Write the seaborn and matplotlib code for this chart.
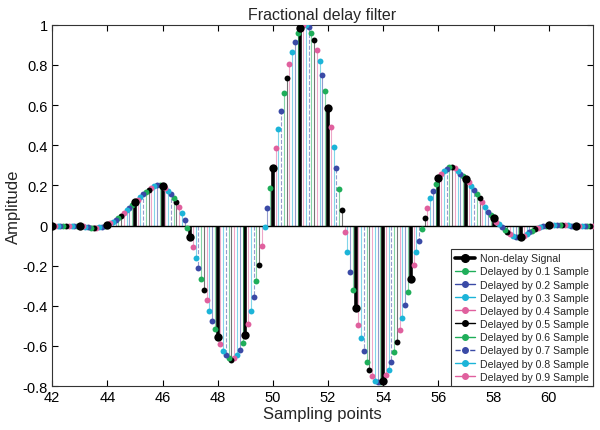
import numpy as np
import pandas as pd
import matplotlib
matplotlib.use("Agg")
import matplotlib.pyplot as plt
from matplotlib.lines import Line2D
from matplotlib.legend_handler import HandlerLine2D
import seaborn as sns

# ---------------- data ----------------
sample_points = list(range(42, 62))
non_delay = [0.000, -0.002, 0.004, 0.116, 0.196, -0.058, -0.554, -0.546, 0.285, 0.983,
             0.585, -0.413, -0.774, -0.266, 0.236, 0.232, 0.038, -0.058, 0.002, 0.000]

delays = [0.1, 0.2, 0.3, 0.4, 0.5, 0.6, 0.7, 0.8, 0.9]
# values of each delayed series at positions n - d, n = 43, 44, ...
delay_01 = [-0.001, -0.001, 0.103, 0.201, -0.013, -0.516, -0.588, 0.186, 0.957, 0.672,
            -0.320, -0.779, -0.330, 0.207, 0.246, 0.053, -0.058, 0.000, 0.000]
delay_02 = [-0.001, -0.005, 0.089, 0.201, 0.027, -0.475, -0.621, 0.087, 0.917, 0.751,
            -0.230, -0.782, -0.396, 0.174, 0.258, 0.069, -0.055, -0.003, 0.000]
delay_03 = [0.000, -0.008, 0.075, 0.197, 0.062, -0.426, -0.646, -0.009, 0.867, 0.819,
            -0.131, -0.774, -0.462, 0.136, 0.274, 0.091, -0.050, -0.007, 0.001]
delay_04 = [0.000, -0.010, 0.061, 0.189, 0.092, -0.372, -0.660, -0.104, 0.807, 0.877,
            -0.031, -0.752, -0.521, 0.086, 0.286, 0.116, -0.042, -0.012, 0.001, 0.000]
delay_05 = [0.000, -0.011, 0.049, 0.178, 0.117, -0.320, -0.668, -0.195, 0.734, 0.927,
            0.077, -0.720, -0.582, 0.036, 0.291, 0.136, -0.032, -0.018, 0.002, 0.000]
delay_06 = [0.000, -0.010, 0.038, 0.167, 0.139, -0.265, -0.659, -0.278, 0.660, 0.960,
            0.182, -0.679, -0.632, -0.017, 0.290, 0.157, -0.020, -0.025, 0.002, 0.000]
delay_07 = [0.000, -0.008, 0.028, 0.156, 0.158, -0.213, -0.646, -0.358, 0.573, 0.988,
            0.288, -0.627, -0.679, -0.075, 0.282, 0.175, -0.008, -0.033, 0.003, 0.000]
delay_08 = [0.000, -0.006, 0.019, 0.143, 0.173, -0.160, -0.623, -0.426, 0.480, 0.998,
            0.392, -0.563, -0.719, -0.133, 0.270, 0.196, 0.006, -0.042, 0.003, 0.000]
delay_09 = [0.000, -0.004, 0.011, 0.129, 0.186, -0.106, -0.592, -0.491, 0.386, 0.998,
            0.493, -0.496, -0.745, -0.196, 0.257, 0.216, 0.020, -0.051, 0.003, 0.000]
delay_values = [delay_01, delay_02, delay_03, delay_04, delay_05,
                delay_06, delay_07, delay_08, delay_09]

labels = ["Non-delay Signal"] + [f"Delayed by {d} Sample" for d in delays]
x_ticks = [42, 44, 46, 48, 50, 52, 54, 56, 58, 60]
y_ticks = [-0.8, -0.6, -0.4, -0.2, 0, 0.2, 0.4, 0.6, 0.8, 1]
y_ticklabels = ["-0.8", "-0.6", "-0.4", "-0.2", "0", "0.2", "0.4", "0.6", "0.8", "1"]

# ---------------- style ----------------
sns.set_style("ticks")
plt.rcParams["font.family"] = ["Liberation Sans", "DejaVu Sans"]

green, blue, cyan, pink = "#1fae5a", "#3a4aa6", "#1cb4d8", "#e0609e"
colors = [green, blue, cyan, pink, "black", green, blue, cyan, pink]
stem_styles = ["-", "-", "-", "-", "-", "-", "--", "-", "-"]

fig = plt.figure(figsize=(6.0, 4.31), dpi=100)
ax = fig.add_axes([0.087, 0.102, 0.901, 0.838])

# non-delay signal
ax.vlines(sample_points, 0, non_delay, colors="black", linewidth=2.6, zorder=2)
sns.scatterplot(x=sample_points, y=non_delay, ax=ax, color="black", s=36,
                edgecolor="black", linewidth=0, zorder=5, legend=False)

for d, vals, c, ls in zip(delays, delay_values, colors, stem_styles):
    pos = np.arange(43, 43 + len(vals)) - d
    ax.vlines(pos, 0, vals, colors=c, linewidth=0.8, linestyles=ls, alpha=0.55, zorder=3)
    sns.scatterplot(x=pos, y=vals, ax=ax, color=c, s=18, edgecolor=c,
                    linewidth=0, zorder=4, legend=False)

ax.axhline(0, color="black", linewidth=1.0, zorder=3)

ax.set_xlim(42, 61.6)
ax.set_ylim(-0.8, 1.0)
ax.set_xticks(x_ticks)
ax.set_yticks(y_ticks)
ax.set_yticklabels(y_ticklabels)
ax.tick_params(direction="in", top=True, right=True, length=4, width=0.8,
               labelsize=10.5, colors="black", pad=3)
for s in ax.spines.values():
    s.set_linewidth(0.8)
    s.set_color("#333333")

ax.set_title("Fractional delay filter", fontsize=11.5, pad=4)
ax.set_xlabel("Sampling points", fontsize=12, labelpad=1)
ax.set_ylabel("Amplitude", fontsize=12, labelpad=1)

# legend: line with marker at its right end (MATLAB stem style)
class EndMarkerHandler(HandlerLine2D):
    def get_xdata(self, legend, xdescent, ydescent, width, height, fontsize):
        xdata, _ = super().get_xdata(legend, xdescent, ydescent, width, height, fontsize)
        return xdata, [xdata[-1]]

handles = [Line2D([0], [0], color="black", linewidth=2.6, marker="o",
                  markersize=5.5)]
for c, ls in zip(colors, stem_styles):
    handles.append(Line2D([0], [0], color=c, linewidth=1.0, linestyle=ls,
                          marker="o", markersize=4))
leg = ax.legend(handles, labels, loc="lower right", fontsize=7.6,
                handler_map={Line2D: EndMarkerHandler(numpoints=1)},
                frameon=True, fancybox=False, edgecolor="#333333",
                framealpha=1, borderaxespad=0, handlelength=1.9,
                handletextpad=0.4, labelspacing=0.3, borderpad=0.4)
leg.get_frame().set_linewidth(0.8)
leg.set_zorder(10)

fig.savefig("out.png", dpi=100)
